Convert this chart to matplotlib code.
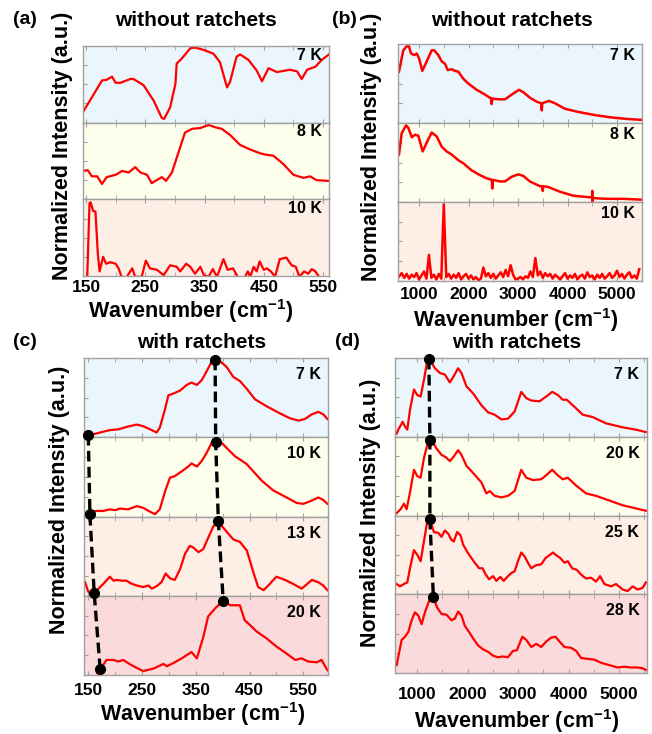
import numpy as np
import matplotlib
matplotlib.use('Agg')
import matplotlib.pyplot as plt

plt.rcParams['font.family'] = ['Liberation Sans', 'DejaVu Sans']
plt.rcParams['font.weight'] = 'bold'
plt.rcParams['mathtext.fontset'] = 'custom'
plt.rcParams['mathtext.rm'] = 'Liberation Sans:bold'
plt.rcParams['mathtext.bf'] = 'Liberation Sans:bold'
plt.rcParams['mathtext.default'] = 'bf'

# ---- panel (a): without ratchets, low wavenumber ----
a_temps = ['7 K', '8 K', '10 K']
a7_x = [145, 160, 177, 185, 194, 200, 208, 225, 230, 247, 264, 278, 282, 292, 301, 303, 312, 326, 334, 348,
        365, 376, 388, 393, 404, 410, 424, 438, 447, 458, 472, 494, 506, 514, 523, 537, 548, 560]
a7_y = [0.14, 0.33, 0.55, 0.56, 0.60, 0.52, 0.52, 0.57, 0.57, 0.49, 0.29, 0.06, 0.05, 0.20, 0.51, 0.77, 0.84, 0.97, 0.98, 0.95,
        0.90, 0.79, 0.46, 0.53, 0.86, 0.89, 0.82, 0.68, 0.54, 0.71, 0.66, 0.69, 0.67, 0.57, 0.69, 0.73, 0.82, 0.89]
a8_x = [145, 153, 160, 169, 177, 185, 200, 211, 222, 233, 242, 253, 261, 267, 278, 285, 295, 303, 317, 329,
        343, 357, 368, 379, 393, 410, 427, 444, 455, 466, 483, 500, 517, 528, 539, 560]
a8_y = [0.37, 0.38, 0.30, 0.30, 0.20, 0.29, 0.32, 0.37, 0.35, 0.42, 0.35, 0.32, 0.21, 0.24, 0.29, 0.24, 0.35, 0.54, 0.87, 0.92,
        0.93, 0.97, 0.94, 0.92, 0.84, 0.71, 0.65, 0.60, 0.58, 0.57, 0.46, 0.32, 0.28, 0.30, 0.25, 0.24]
a10_x = [152, 156, 158, 162, 166, 170, 173, 179, 184, 191, 200, 205, 211, 219, 228, 233, 244, 251, 258, 270,
         281, 292, 303, 309, 319, 326, 334, 343, 349, 357, 364, 371, 382, 389, 398, 406, 416, 423, 427, 433,
         438, 443, 450, 455, 462, 469, 477, 488, 497, 504, 510, 518, 525, 531, 537, 545, 560]
a10_y = [-0.05, 0.95, 0.96, 0.85, 0.84, 0.29, 0.06, 0.25, 0.16, 0.18, 0.16, 0.10, -0.03, -0.01, 0.10, -0.01, -0.01, 0.20, 0.10, 0.08,
         0.01, 0.14, 0.12, 0.06, 0.16, 0.12, 0.03, 0.12, 0.01, -0.01, 0.09, -0.01, 0.22, 0.08, 0.10, -0.01, -0.05, 0.06, -0.01, 0.12,
         0.06, 0.19, 0.08, 0.10, 0.06, -0.01, 0.22, 0.24, 0.14, 0.12, -0.01, 0.06, 0.03, 0.09, 0.06, -0.03, -0.03]

# ---- panel (b): without ratchets, full range ----
b_temps = ['7 K', '8 K', '10 K']
b7_x = [595, 682, 750, 797, 838, 905, 953, 1000, 1066, 1155, 1256, 1308, 1389, 1458, 1524, 1579, 1660, 1726, 1793, 1894,
        1995, 2165, 2332, 2455, 2467, 2480, 2602, 2737, 2872, 3019, 3106, 3241, 3376, 3470, 3480, 3490, 3625, 3746, 3948, 4217,
        4554, 4891, 5227, 5497]
b7_y = [0.65, 0.92, 0.97, 0.97, 0.88, 0.86, 0.88, 0.82, 0.66, 0.78, 0.92, 0.92, 0.86, 0.78, 0.75, 0.67, 0.68, 0.66, 0.65, 0.56,
        0.50, 0.42, 0.36, 0.31, 0.24, 0.31, 0.30, 0.30, 0.36, 0.42, 0.39, 0.32, 0.27, 0.25, 0.16, 0.25, 0.28, 0.25, 0.18, 0.14,
        0.10, 0.07, 0.05, 0.04]
b8_x = [595, 649, 737, 783, 852, 918, 985, 1074, 1168, 1256, 1357, 1458, 1559, 1660, 1793, 1894, 2064, 2231, 2366, 2470,
        2480, 2490, 2635, 2736, 2872, 3006, 3106, 3241, 3443, 3490, 3500, 3510, 3611, 3847, 4116, 4439, 4495, 4500, 4505, 4510,
        4791, 5126, 5477]
b8_y = [0.60, 0.87, 0.97, 0.94, 0.82, 0.85, 0.84, 0.64, 0.77, 0.88, 0.83, 0.70, 0.64, 0.60, 0.53, 0.49, 0.40, 0.34, 0.30, 0.28,
        0.17, 0.28, 0.26, 0.26, 0.32, 0.35, 0.33, 0.26, 0.20, 0.20, 0.14, 0.20, 0.19, 0.13, 0.08, 0.06, 0.06, 0.14, 0.00, 0.05,
        0.04, 0.04, 0.03]
b10_x = np.arange(600, 5500, 50)
b10_y = [0.06, 0.10, 0.04, 0.09, 0.03, 0.08, 0.05, 0.10, 0.02, 0.07,
         0.12, 0.03, 0.33, 0.04, 0.08, 0.02, 0.09, 0.03, 0.97, 0.05,
         0.09, 0.03, 0.08, 0.04, 0.10, 0.02, 0.06, 0.09, 0.03, 0.07,
         0.02, 0.05, 0.01, 0.03, 0.17, 0.06, 0.10, 0.04, 0.09, 0.03,
         0.07, 0.11, 0.05, 0.14, 0.06, 0.20, 0.08, 0.02, 0.03, 0.05,
         0.02, 0.06, 0.04, 0.12, 0.05, 0.29, 0.07, 0.12, 0.04, 0.10,
         0.06, 0.09, 0.03, 0.08, 0.05, 0.02, 0.06, 0.10, 0.03, 0.07,
         0.04, 0.09, 0.02, 0.06, 0.08, 0.03, 0.11, 0.05, 0.07, 0.02,
         0.08, 0.04, 0.09, 0.03, 0.06, 0.10, 0.04, 0.07, 0.13, 0.05,
         0.09, 0.03, 0.08, 0.11, 0.04, 0.07, 0.03, 0.15]

# ---- panel (c): with ratchets, low wavenumber ----
c_temps = ['7 K', '10 K', '13 K', '20 K']
c7_x = [144, 150, 172, 190, 206, 221, 240, 252, 265, 277, 283, 293, 299, 308, 321, 333, 342, 352, 361, 370,
        380, 386, 395, 407, 420, 432, 445, 460, 482, 507, 525, 541, 553, 566, 578, 587, 595]
c7_y = [0.01, 0.02, 0.06, 0.09, 0.10, 0.13, 0.16, 0.14, 0.10, 0.06, 0.12, 0.36, 0.53, 0.55, 0.59, 0.66, 0.69, 0.66, 0.72, 0.83,
        0.96, 0.99, 0.96, 0.89, 0.76, 0.71, 0.61, 0.48, 0.39, 0.30, 0.24, 0.21, 0.23, 0.29, 0.32, 0.29, 0.23]
c10_x = [144, 150, 166, 178, 190, 200, 209, 224, 240, 252, 265, 274, 283, 293, 302, 311, 324, 336, 342, 352,
         361, 370, 381, 388, 398, 411, 423, 432, 445, 457, 473, 494, 519, 538, 550, 562, 578, 587, 595]
c10_y = [0.05, 0.05, 0.07, 0.07, 0.09, 0.08, 0.10, 0.09, 0.13, 0.11, 0.06, 0.03, 0.09, 0.32, 0.49, 0.51, 0.57, 0.63, 0.67, 0.63,
         0.70, 0.80, 0.95, 0.97, 0.93, 0.84, 0.76, 0.72, 0.66, 0.57, 0.45, 0.33, 0.24, 0.17, 0.16, 0.19, 0.24, 0.21, 0.16]
c13_x = [144, 150, 156, 166, 178, 190, 197, 203, 212, 221, 231, 240, 252, 262, 268, 277, 286, 294, 302, 311,
         321, 330, 339, 345, 355, 364, 373, 383, 392, 401, 411, 420, 432, 445, 457, 466, 476, 485, 500, 516,
         531, 547, 566, 578, 587, 595]
c13_y = [0.17, 0.05, 0.03, 0.07, 0.15, 0.24, 0.19, 0.20, 0.19, 0.19, 0.15, 0.13, 0.11, 0.13, 0.09, 0.12, 0.17, 0.28, 0.22, 0.20,
         0.34, 0.53, 0.63, 0.61, 0.55, 0.59, 0.73, 0.88, 0.92, 0.86, 0.78, 0.71, 0.68, 0.57, 0.30, 0.11, 0.07, 0.13, 0.24, 0.20,
         0.15, 0.09, 0.20, 0.17, 0.13, 0.07]
c20_x = [167, 175, 184, 197, 206, 215, 224, 237, 252, 271, 290, 296, 308, 324, 342, 352, 364, 373, 386, 401,
         414, 423, 432, 441, 451, 463, 482, 500, 519, 535, 547, 559, 575, 584, 595]
c20_y = [0.02, 0.10, 0.19, 0.19, 0.17, 0.19, 0.15, 0.10, 0.05, 0.08, 0.14, 0.11, 0.15, 0.21, 0.29, 0.21, 0.48, 0.74, 0.84, 0.94,
         0.88, 0.88, 0.88, 0.69, 0.63, 0.55, 0.46, 0.36, 0.27, 0.19, 0.21, 0.17, 0.16, 0.19, 0.06]
# peak-shift markers, y in stacked units (subpanel index from bottom + height)
c_left_x = [150, 153, 161, 172]
c_left_y = [3.03, 2.03, 1.03, 0.08]
c_right_x = [386, 387, 392, 401]
c_right_y = [3.98, 2.94, 1.94, 0.94]

# ---- panel (d): with ratchets, full range ----
d_temps = ['7 K', '20 K', '25 K', '28 K']
d7_x = [598, 630, 716, 762, 808, 861, 940, 1005, 1072, 1137, 1202, 1255, 1354, 1452, 1551, 1650, 1728, 1813, 1880, 1979,
        2110, 2275, 2405, 2537, 2669, 2800, 2931, 3063, 3162, 3261, 3424, 3556, 3675, 3786, 3884, 3963, 4115, 4279, 4476, 4740,
        5067, 5331, 5528]
d7_y = [0.04, 0.09, 0.19, 0.13, 0.09, 0.34, 0.60, 0.53, 0.51, 0.72, 0.96, 0.98, 0.87, 0.81, 0.79, 0.69, 0.77, 0.87, 0.81, 0.64,
        0.55, 0.40, 0.31, 0.28, 0.22, 0.23, 0.32, 0.57, 0.49, 0.46, 0.45, 0.51, 0.57, 0.53, 0.47, 0.47, 0.38, 0.28, 0.25, 0.17,
        0.12, 0.09, 0.06]
d20_x = [598, 677, 742, 795, 861, 940, 1005, 1072, 1137, 1222, 1288, 1387, 1485, 1571, 1650, 1728, 1813, 1880, 1979, 2110,
         2275, 2373, 2439, 2537, 2669, 2800, 2931, 3063, 3162, 3293, 3458, 3589, 3675, 3786, 3884, 3983, 4148, 4345, 4542, 4805,
         5067, 5331, 5528]
d20_y = [0.03, 0.08, 0.15, 0.08, 0.29, 0.58, 0.50, 0.48, 0.73, 0.94, 0.96, 0.85, 0.77, 0.74, 0.69, 0.75, 0.83, 0.77, 0.63, 0.54,
         0.42, 0.28, 0.31, 0.25, 0.23, 0.25, 0.31, 0.58, 0.48, 0.45, 0.46, 0.53, 0.58, 0.51, 0.46, 0.48, 0.38, 0.28, 0.25, 0.19,
         0.13, 0.09, 0.06]
d25_x = [598, 664, 742, 808, 861, 940, 1005, 1072, 1137, 1202, 1255, 1334, 1419, 1485, 1551, 1617, 1683, 1728, 1794, 1860,
         1913, 1992, 2077, 2143, 2229, 2295, 2360, 2426, 2505, 2570, 2649, 2715, 2800, 2866, 2931, 2997, 3063, 3129, 3195, 3261,
         3359, 3458, 3543, 3609, 3688, 3767, 3833, 3918, 3983, 4069, 4161, 4246, 4345, 4444, 4542, 4621, 4707, 4838, 4937, 5069,
         5167, 5265, 5364, 5462, 5528]
d25_y = [0.13, 0.10, 0.13, 0.15, 0.33, 0.56, 0.50, 0.42, 0.67, 0.92, 0.95, 0.79, 0.78, 0.73, 0.81, 0.77, 0.69, 0.67, 0.79, 0.75,
         0.63, 0.54, 0.46, 0.40, 0.33, 0.33, 0.25, 0.19, 0.23, 0.17, 0.22, 0.17, 0.23, 0.27, 0.29, 0.42, 0.53, 0.48, 0.40, 0.33,
         0.37, 0.38, 0.46, 0.49, 0.53, 0.49, 0.46, 0.40, 0.42, 0.33, 0.31, 0.25, 0.20, 0.21, 0.16, 0.23, 0.13, 0.10, 0.13, 0.06,
         0.04, 0.10, 0.06, 0.08, 0.15]
d28_x = [598, 650, 697, 762, 828, 894, 959, 1025, 1091, 1157, 1242, 1334, 1399, 1486, 1584, 1683, 1748, 1814, 1880, 1945,
         2030, 2109, 2208, 2306, 2405, 2504, 2602, 2701, 2799, 2898, 2977, 3083, 3162, 3261, 3359, 3458, 3557, 3655, 3740, 3819,
         3917, 4049, 4148, 4247, 4378, 4509, 4641, 4805, 4969, 5101, 5233, 5364, 5463, 5528]
d28_y = [0.10, 0.27, 0.42, 0.46, 0.52, 0.67, 0.77, 0.73, 0.62, 0.77, 0.92, 0.94, 0.83, 0.75, 0.74, 0.67, 0.69, 0.78, 0.73, 0.60,
         0.52, 0.44, 0.35, 0.30, 0.27, 0.22, 0.20, 0.21, 0.20, 0.28, 0.29, 0.46, 0.42, 0.33, 0.37, 0.33, 0.40, 0.45, 0.46, 0.40,
         0.33, 0.32, 0.28, 0.19, 0.18, 0.17, 0.13, 0.10, 0.07, 0.08, 0.07, 0.07, 0.06, 0.04]
d_chain_x = [1235, 1255, 1255, 1325]
d_chain_y = [3.99, 2.96, 1.95, 0.96]

low_ticks = [150, 250, 350, 450, 550]
low_minor = [200, 300, 400, 500]
high_ticks = [1000, 2000, 3000, 4000, 5000]
high_minor = [1500, 2500, 3500, 4500, 5500]

BG = ['#EAF6FC', '#FEFEEC', '#FDEEE6', '#FADADA']
EDGE = '#A0A0A0'
W, H = 652, 734


def px(x, y):
    return x / W, 1 - y / H


def draw_stack(fig, box, curves, temps, xlim, ticks, minor, tpad, temp_y, lw=1.6):
    # box in pixels: left, top, right, bottom
    l, t, r, b = box
    n = len(curves)
    sub_h = (b - t) / n
    axes = []
    for k, ((x, y), temp) in enumerate(zip(curves, temps)):
        top = t + k * sub_h
        ax = fig.add_axes([l / W, 1 - (top + sub_h) / H, (r - l) / W, sub_h / H])
        ax.set_facecolor(BG[k])
        ax.plot(x, y, color='#FF0000', lw=lw, solid_joinstyle='round')
        ax.set_xlim(*xlim)
        ax.set_ylim(0, 1)
        ax.set_xticks(ticks)
        ax.set_xticks(minor, minor=True)
        ax.set_yticks([0, 0.25, 0.5, 0.75])
        ax.set_yticklabels([])
        ax.tick_params(axis='both', which='both', direction='in', length=3,
                       color=EDGE, top=True, bottom=True, left=True, right=False)
        ax.tick_params(axis='x', labelsize=12.5, pad=tpad)
        if k < n - 1:
            ax.set_xticklabels([])
        for s in ax.spines.values():
            s.set_color(EDGE)
            s.set_linewidth(1.0)
        ax.text(0.97, temp_y, temp, transform=ax.transAxes, ha='right',
                va='center', fontsize=11.5, fontweight='bold')
        axes.append(ax)
    over = fig.add_axes([l / W, 1 - b / H, (r - l) / W, (b - t) / H])
    over.set_xlim(*xlim)
    over.set_ylim(0, n)
    over.axis('off')
    return axes, over


def chain(ax, x, y):
    ax.plot(x, y, color='black', lw=2.4, dashes=(3.2, 1.6), clip_on=False)
    ax.plot(x, y, 'o', color='black', ms=7, clip_on=False)


fig = plt.figure(figsize=(6.52, 7.34), dpi=100)
fig.patch.set_facecolor('white')

draw_stack(fig, (83, 46, 329, 276), [(a7_x, a7_y), (a8_x, a8_y), (a10_x, a10_y)],
           a_temps, (145, 560), low_ticks, low_minor, 3, 0.88)
draw_stack(fig, (398, 44, 642, 281), [(b7_x, b7_y), (b8_x, b8_y), (b10_x, b10_y)],
           b_temps, (575, 5505), high_ticks, high_minor, 4, 0.86, lw=1.8)
_, over_c = draw_stack(fig, (84, 358, 328, 675),
                       [(c7_x, c7_y), (c10_x, c10_y), (c13_x, c13_y), (c20_x, c20_y)],
                       c_temps, (142, 596), low_ticks, low_minor, 6, 0.79)
chain(over_c, c_left_x, c_left_y)
chain(over_c, c_right_x, c_right_y)
_, over_d = draw_stack(fig, (395, 358, 647, 673),
                       [(d7_x, d7_y), (d20_x, d20_y), (d25_x, d25_y), (d28_x, d28_y)],
                       d_temps, (565, 5550), high_ticks, high_minor, 10, 0.79)
chain(over_d, d_chain_x, d_chain_y)

xlab = r'Wavenumber (cm$^{-1}$)'
ylab = 'Normalized Intensity (a.u.)'
for (x, y), txt in [((191, 311), xlab), ((516, 320), xlab), ((203, 714), xlab), ((517, 721), xlab)]:
    fig.text(*px(x, y), txt, ha='center', va='center', fontsize=15.5, fontweight='bold')
for (x, y) in [(63, 146), (372, 147), (60, 500), (370, 513)]:
    fig.text(*px(x, y), ylab, ha='center', va='center', rotation=90,
             fontsize=15.5, fontweight='bold')
for (x, y), txt in [((196, 20), 'without ratchets'), ((512, 20), 'without ratchets'),
                    ((202, 343), 'with ratchets'), ((517, 343), 'with ratchets')]:
    fig.text(*px(x, y), txt, ha='center', va='center', fontsize=15, fontweight='bold')
for (x, y), txt in [((13, 20), '(a)'), ((332, 20), '(b)'), ((13, 341), '(c)'), ((335, 341), '(d)')]:
    fig.text(*px(x, y), txt, ha='left', va='center', fontsize=14, fontweight='bold')

fig.savefig('out.png', dpi=100, facecolor='white')
